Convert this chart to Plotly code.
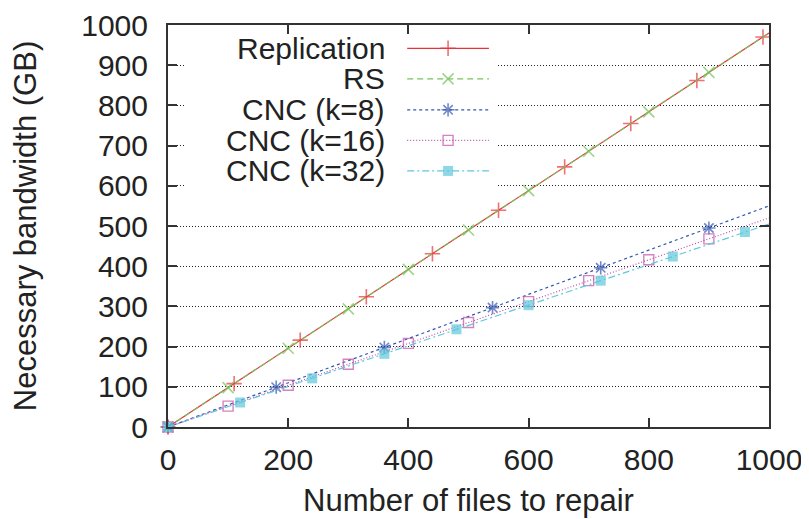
import plotly.graph_objects as go

# ---- data ----
rep_x = [0, 110, 220, 330, 440, 550, 660, 770, 880, 990, 1000]
rep_y = [0, 108, 216, 324, 431, 539, 647, 755, 862, 970, 980]

rs_x = [0, 100, 200, 300, 400, 500, 600, 700, 800, 900, 1000]
rs_y = [0, 98, 196, 294, 392, 490, 588, 686, 784, 882, 980]

cnc8_x = [0, 180, 360, 540, 720, 900, 1000]
cnc8_y = [0, 99, 198, 297, 396, 495, 550]

cnc16_x = [0, 100, 200, 300, 400, 500, 600, 700, 800, 900, 1000]
cnc16_y = [0, 52, 104, 156, 208, 260, 312, 364, 416, 468, 520]

cnc32_x = [0, 120, 240, 360, 480, 600, 720, 840, 960, 1000]
cnc32_y = [0, 61, 121, 182, 243, 303, 364, 424, 485, 505]

series_names = ["Replication", "RS", "CNC (k=8)", "CNC (k=16)", "CNC (k=32)"]
x_ticks = [0, 200, 400, 600, 800, 1000]
y_ticks = [0, 100, 200, 300, 400, 500, 600, 700, 800, 900, 1000]

# ---- styles ----
styles = [
    dict(color="#e8333a", dash="solid", symbol="cross-thin-open", size=11, lw=1.6),
    dict(color="#76c35a", dash="6px,4px", symbol="x-thin-open", size=11, lw=1.6),
    dict(color="#3456b0", dash="3px,3px", symbol="asterisk-open", size=11, lw=1.6),
    dict(color="#c04fa8", dash="1px,2px", symbol="square-open", size=10, lw=1.4),
    dict(color="#5ec8dc", dash="7px,3px,2px,3px", symbol="square", size=10, lw=0),
]
data = [(rep_x, rep_y), (rs_x, rs_y), (cnc8_x, cnc8_y), (cnc16_x, cnc16_y), (cnc32_x, cnc32_y)]

FONT = "Liberation Sans, Arial, sans-serif"
fig = go.Figure()

for (xs, ys), st, name in zip(data, styles, series_names):
    sizes = [st["size"]] * (len(xs) - 1) + [0]
    fig.add_trace(go.Scatter(
        x=xs, y=ys, mode="lines+markers", name=name, showlegend=False,
        line=dict(color=st["color"], width=1.2, dash=st["dash"]),
        marker=dict(symbol=st["symbol"], size=sizes, color=st["color"],
                    line=dict(color=st["color"], width=st["lw"])),
        cliponaxis=False,
    ))

# ---- gnuplot-style key (text on the left, sample on the right) ----
row_y = [0.942, 0.866, 0.789, 0.713, 0.637]
for st, name, ry in zip(styles, series_names, row_y):
    fig.add_trace(go.Scatter(
        x=[0.398, 0.466, 0.534], y=[ry, ry, ry], xaxis="x2", yaxis="y2",
        mode="lines+markers", showlegend=False, hoverinfo="skip",
        line=dict(color=st["color"], width=1.2, dash=st["dash"]),
        marker=dict(symbol=st["symbol"], size=[0, st["size"], 0], color=st["color"],
                    line=dict(color=st["color"], width=st["lw"])),
    ))
    fig.add_annotation(x=0.364, y=ry, xref="x2", yref="y2", text=name,
                       showarrow=False, xanchor="right", yanchor="middle",
                       font=dict(family=FONT, size=30, color="#222"))

# opaque key box hiding the grid behind it
fig.add_shape(type="rect", xref="x", yref="y", x0=28, x1=547, y0=575, y1=997,
              fillcolor="white", line=dict(width=0), layer="between")

axis_common = dict(
    showline=True, linecolor="#333", linewidth=2, mirror="ticks",
    ticks="inside", ticklen=9, tickwidth=1.5, tickcolor="#333",
    tickfont=dict(family=FONT, size=30, color="#222"),
    zeroline=False,
)

# page body has an 8px margin, so the figure is sized/placed to compensate
fig.update_layout(
    width=801, height=511,
    margin=dict(l=160, r=40, t=17, b=92, autoexpand=False),
    paper_bgcolor="white", plot_bgcolor="white",
    showlegend=False,
    xaxis=dict(range=[0, 1000], tickvals=x_ticks, showgrid=False,
               ticklabelstandoff=5, automargin=False,
               title=dict(text="Number of files to repair", standoff=14,
                          font=dict(family=FONT, size=31, color="#222")),
               **axis_common),
    yaxis=dict(range=[0, 1000], tickvals=y_ticks, showgrid=True,
               gridcolor="#222", griddash="1px,2px", gridwidth=1,
               ticklabelstandoff=12, automargin=False,
               title=dict(text="Necessary bandwidth (GB)", standoff=35,
                          font=dict(family=FONT, size=31, color="#222")),
               **axis_common),
    xaxis2=dict(range=[0, 1], overlaying="x", visible=False, fixedrange=True),
    yaxis2=dict(range=[0, 1], overlaying="y", visible=False, fixedrange=True),
)

fig.write_html("out.html")
